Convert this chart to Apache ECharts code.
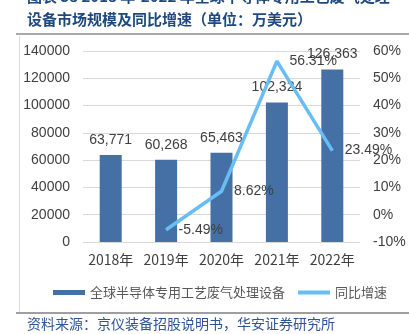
<!DOCTYPE html>
<html>
<head>
<meta charset="utf-8">
<script src="https://cdn.jsdelivr.net/npm/echarts@6/dist/echarts.min.js"></script>
<style>
  html, body { margin: 0; padding: 0; background: #fff; }
  #chart { width: 409px; height: 334px; }
</style>
</head>
<body>
<div id="chart"></div>
<script>
// Market size of semiconductor process exhaust treatment equipment (10k USD) and YoY growth
const years = ['2018年', '2019年', '2020年', '2021年', '2022年'];
const marketSize = [63771, 60268, 65463, 102324, 126363];
const yoyGrowth = [null, -5.49, 8.62, 56.31, 23.49];
const seriesNames = ['全球半导体专用工艺废气处理设备', '同比增速'];
const titleLine1 = '图表 38 2018 年-2022 年全球半导体专用工艺废气处理';
const titleLine2 = '设备市场规模及同比增速（单位：万美元）';
const sourceText = '资料来源：京仪装备招股说明书，华安证券研究所';

const cjk = '"Noto Sans CJK SC", "Liberation Sans", sans-serif';
const num = '"Liberation Sans", Arial, sans-serif';

const chart = echarts.init(document.getElementById('chart'));
chart.setOption({
  animation: false,
  backgroundColor: '#ffffff',
  grid: { left: 83, right: 49, top: 51, bottom: 92 },
  legend: {
    top: 281,
    left: 48,
    itemGap: 13,
    itemWidth: 32,
    itemHeight: 5,
    textStyle: { fontFamily: cjk, fontSize: 13, color: '#595959' },
    data: [
      { name: seriesNames[0], icon: 'rect' },
      { name: seriesNames[1], icon: 'path://M0,0 L32,0 L32,4 L0,4 Z' }
    ]
  },
  xAxis: {
    type: 'category',
    data: years,
    axisLine: { show: false },
    axisTick: { show: false },
    axisLabel: { interval: 0, fontFamily: cjk, fontSize: 14, color: '#404040', margin: 11 }
  },
  yAxis: [
    {
      type: 'value',
      min: 0, max: 140000, interval: 20000,
      axisLine: { show: false },
      axisTick: { show: false },
      axisLabel: { fontFamily: num, fontSize: 14, color: '#404040', margin: 13, formatter: v => String(v) },
      splitLine: { lineStyle: { color: '#d9d9d9', width: 1 } }
    },
    {
      type: 'value',
      min: -10, max: 60, interval: 10,
      axisLine: { show: false },
      axisTick: { show: false },
      axisLabel: { fontFamily: num, fontSize: 14, color: '#404040', margin: 13, formatter: '{value}%' },
      splitLine: { show: false }
    }
  ],
  series: [
    {
      name: seriesNames[0],
      type: 'bar',
      data: marketSize,
      barWidth: 22,
      itemStyle: { color: '#4570a6' },
      label: {
        show: true,
        position: 'top',
        distance: 8,
        fontFamily: num,
        fontSize: 14,
        color: '#404040',
        formatter: p => p.value.toLocaleString('en-US')
      },
      z: 2
    },
    {
      name: seriesNames[1],
      type: 'line',
      yAxisIndex: 1,
      data: yoyGrowth,
      symbol: 'circle',
      symbolSize: 1,
      showSymbol: true,
      lineStyle: { color: '#68bdf5', width: 3.5 },
      itemStyle: { color: '#68bdf5' },
      label: {
        show: true,
        position: 'right',
        distance: 12,
        fontFamily: num,
        fontSize: 14,
        color: '#404040',
        formatter: p => (p.value == null ? '' : Number(p.value).toFixed(2) + '%')
      },
      labelLayout: { hideOverlap: false },
      z: 3
    }
  ],
  graphic: [
    { type: 'text', left: 27, top: -11, style: { text: titleLine1, font: 'bold 15px ' + cjk, fill: '#1f497d' } },
    { type: 'text', left: 27, top: 12, style: { text: titleLine2, font: 'bold 15px ' + cjk, fill: '#1f497d' } },
    { type: 'line', shape: { x1: 16, y1: 34, x2: 409, y2: 34 }, style: { stroke: '#8c8c8c', lineWidth: 1.5 } },
    { type: 'line', shape: { x1: 19.5, y1: 36, x2: 19.5, y2: 312 }, style: { stroke: '#d9d9d9', lineWidth: 1 } },
    { type: 'line', shape: { x1: 16, y1: 313, x2: 409, y2: 313 }, style: { stroke: '#7f7f7f', lineWidth: 1.5 } },
    { type: 'text', left: 27, top: 317, style: { text: sourceText, font: '14px ' + cjk, fill: '#2f5597' } }
  ]
});
</script>
</body>
</html>
